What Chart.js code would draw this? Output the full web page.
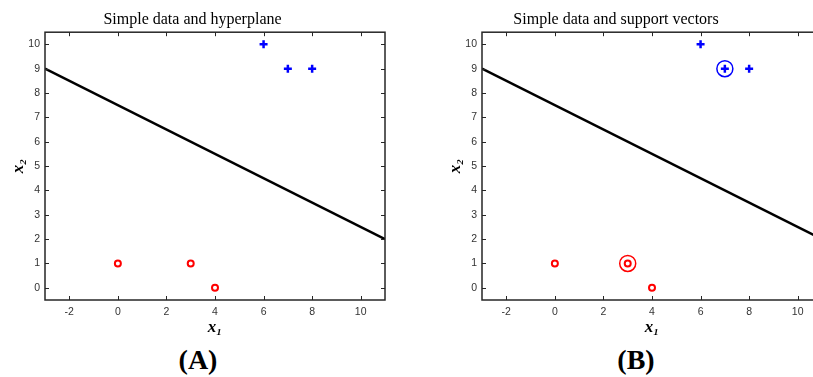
<!DOCTYPE html>
<html>
<head>
<meta charset="utf-8">
<script src="https://cdn.jsdelivr.net/npm/chart.js@4.4.0/dist/chart.umd.min.js"></script>
<style>
  html, body { margin: 0; padding: 0; background: #fff; }
  #page { position: relative; width: 813px; height: 377px; overflow: hidden; }
  canvas { position: absolute; top: 0; }
  .panel { position: absolute; font: bold 28px "Liberation Serif", "Times New Roman", serif; transform: translateX(-50%); line-height: 32px; }
</style>
</head>
<body>
<div id="page">
  <canvas id="chartA" width="410" height="340" style="left:0"></canvas>
  <canvas id="chartB" width="437" height="340" style="left:410px"></canvas>
  <div class="panel" style="left:198px; top:344px">(A)</div>
  <div class="panel" style="left:636px; top:344px">(B)</div>
</div>
<script>
// data
const negX = [0, 3, 4];
const negY = [1, 1, 0];
const posX = [6, 7, 8];
const posY = [10, 9, 9];
const lineX = [-3, 11];
const lineY = [9, 2];
const svX = [3, 7];
const svY = [1, 9];
const svColors = ['#ff0000', '#0000ff'];
const xTicks = [-2, 0, 2, 4, 6, 8, 10];
const yTicks = [0, 1, 2, 3, 4, 5, 6, 7, 8, 9, 10];
const xRange = [-3, 11];
const yRange = [-0.5, 10.5];

function pts(xs, ys) {
    return xs.map((x, i) => ({ x: x, y: ys[i] }));
}

// box around the plot with ticks pointing inward on every side
const framePlugin = {
    id: 'frame',
    afterDraw(chart) {
        const ctx = chart.ctx;
        const a = chart.chartArea;
        const sx = chart.scales.x, sy = chart.scales.y;
        const len = 4;
        ctx.save();
        ctx.strokeStyle = '#262626';
        ctx.lineWidth = 1;
        ctx.beginPath();
        sx.ticks.forEach(t => {
            const px = Math.round(sx.getPixelForValue(t.value)) + 0.5;
            ctx.moveTo(px, a.bottom); ctx.lineTo(px, a.bottom - len);
            ctx.moveTo(px, a.top); ctx.lineTo(px, a.top + len);
        });
        sy.ticks.forEach(t => {
            const py = Math.round(sy.getPixelForValue(t.value)) + 0.5;
            ctx.moveTo(a.left, py); ctx.lineTo(a.left + len, py);
            ctx.moveTo(a.right, py); ctx.lineTo(a.right - len, py);
        });
        ctx.stroke();
        ctx.lineWidth = 1.5;
        ctx.strokeRect(a.left, a.top, a.right - a.left, a.bottom - a.top);
        ctx.restore();
    }
};

const serif = '"Liberation Serif", "Times New Roman", serif';
const sans = '"Liberation Sans", Arial, sans-serif';

function makeChart(id, title, axisW, yTitlePad, withSV) {
    const datasets = [
        {
            data: pts(lineX, lineY),
            showLine: true,
            borderColor: '#000',
            borderWidth: 2.5,
            pointRadius: 0
        },
        {
            data: pts(negX, negY),
            pointStyle: 'circle',
            pointRadius: 3,
            borderWidth: 2,
            borderColor: '#ff0000',
            backgroundColor: '#fff'
        },
        {
            data: pts(posX, posY),
            pointStyle: 'cross',
            pointRadius: 4,
            borderWidth: 2.5,
            borderColor: '#0000ff'
        }
    ];
    if (withSV) {
        datasets.push({
            data: pts(svX, svY),
            pointStyle: 'circle',
            pointRadius: 8,
            borderWidth: 1.5,
            borderColor: svColors,
            backgroundColor: 'rgba(0,0,0,0)'
        });
    }
    return new Chart(document.getElementById(id), {
        type: 'scatter',
        data: { datasets: datasets },
        options: {
            responsive: false,
            animation: false,
            layout: { padding: { top: 0, right: 25, left: 0, bottom: 0 } },
            plugins: {
                legend: { display: false },
                tooltip: { enabled: false },
                title: {
                    display: true,
                    text: title,
                    color: '#000',
                    font: { family: serif, size: 16, weight: 'normal' },
                    padding: { top: 10, bottom: 3 }
                }
            },
            scales: {
                x: {
                    type: 'linear',
                    min: xRange[0],
                    max: xRange[1],
                    grid: { display: false, drawTicks: false },
                    border: { display: false },
                    afterBuildTicks: s => { s.ticks = xTicks.map(v => ({ value: v })); },
                    afterFit: s => { s.height = 40; },
                    ticks: { color: '#333', padding: 6, maxRotation: 0, font: { family: sans, size: 10.5 } },
                    title: {
                        display: true,
                        text: 'x₁',
                        color: '#000',
                        font: { family: serif, size: 17, style: 'italic', weight: 'bold' },
                        padding: { top: 0, bottom: 2 }
                    }
                },
                y: {
                    type: 'linear',
                    min: yRange[0],
                    max: yRange[1],
                    grid: { display: false, drawTicks: false },
                    border: { display: false },
                    afterBuildTicks: s => { s.ticks = yTicks.map(v => ({ value: v })); },
                    afterFit: s => { s.width = axisW; },
                    ticks: { color: '#333', padding: 5, font: { family: sans, size: 10.5 } },
                    title: {
                        display: true,
                        text: 'x₂',
                        color: '#000',
                        font: { family: serif, size: 17, style: 'italic', weight: 'bold' },
                        padding: { top: yTitlePad, bottom: 0 }
                    }
                }
            }
        },
        plugins: [framePlugin]
    });
}

makeChart('chartA', 'Simple data and hyperplane', 45, 8, false);
makeChart('chartB', 'Simple data and support vectors', 72, 35, true);
</script>
</body>
</html>
